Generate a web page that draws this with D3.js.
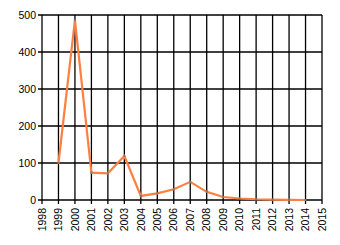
<!DOCTYPE html>
<html>
<head>
<meta charset="utf-8">
<script src="https://cdn.jsdelivr.net/npm/d3@7"></script>
<style>
  body { margin: 0; background: #fff; }
  text { font-family: "Liberation Sans", Arial, sans-serif; fill: #000; }
</style>
</head>
<body>
<div id="grafico"></div>
<script>
// Datos
var years = [1999, 2000, 2001, 2002, 2003, 2004, 2005, 2006, 2007, 2008, 2009, 2010, 2011, 2012, 2013, 2014];
var values = [100, 486, 74, 72, 119, 11, 18, 29, 49, 22, 8, 4, 2, 1, 0.5, 0];
var xTicks = d3.range(1998, 2016);
var yTicks = [0, 100, 200, 300, 400, 500];

var width = 340, height = 245;
var margin = {top: 15, right: 18, bottom: 45, left: 42};

var svg = d3.select("#grafico").append("svg")
    .attr("width", width)
    .attr("height", height);

var x = d3.scaleLinear()
    .domain([1998, 2015])
    .range([margin.left, width - margin.right]);
var y = d3.scaleLinear()
    .domain([0, 500])
    .range([height - margin.bottom, margin.top]);

// Rejilla
var grid = svg.append("g").attr("stroke", "#000").attr("stroke-width", 1.3);
grid.selectAll("line.v")
    .data(xTicks)
    .enter().append("line")
    .attr("x1", function(d) { return x(d); })
    .attr("x2", function(d) { return x(d); })
    .attr("y1", y(0) + 4)
    .attr("y2", y(500));
grid.selectAll("line.h")
    .data(yTicks)
    .enter().append("line")
    .attr("x1", x(1998) - 4)
    .attr("x2", x(2015))
    .attr("y1", function(d) { return y(d); })
    .attr("y2", function(d) { return y(d); });

// Etiquetas eje Y
svg.append("g").selectAll("text")
    .data(yTicks)
    .enter().append("text")
    .attr("x", x(1998) - 6)
    .attr("y", function(d) { return y(d); })
    .attr("dy", "0.35em")
    .attr("text-anchor", "end")
    .style("font-size", "10.5px")
    .text(function(d) { return d; });

// Etiquetas eje X (rotadas)
svg.append("g").selectAll("text")
    .data(xTicks)
    .enter().append("text")
    .attr("transform", function(d) { return "translate(" + x(d) + "," + (y(0) + 8) + ") rotate(-90)"; })
    .attr("dy", "0.35em")
    .attr("text-anchor", "end")
    .style("font-size", "10.5px")
    .text(function(d) { return d; });

// Serie
var xy = years.map(function(d, i) { return {x: d, y: values[i]}; });
var linea = d3.line()
    .x(function(d) { return x(d.x); })
    .y(function(d) { return y(d.y); });

svg.append("path")
    .attr("d", linea(xy))
    .style("fill", "none")
    .style("stroke", "#ff7f3f")
    .style("stroke-width", 2.2);

svg.append("g").selectAll("rect")
    .data(xy)
    .enter().append("rect")
    .attr("x", function(d) { return x(d.x) - 1; })
    .attr("y", function(d) { return y(d.y) - 1; })
    .attr("width", 2)
    .attr("height", 2)
    .attr("fill", "#777");
</script>
</body>
</html>
